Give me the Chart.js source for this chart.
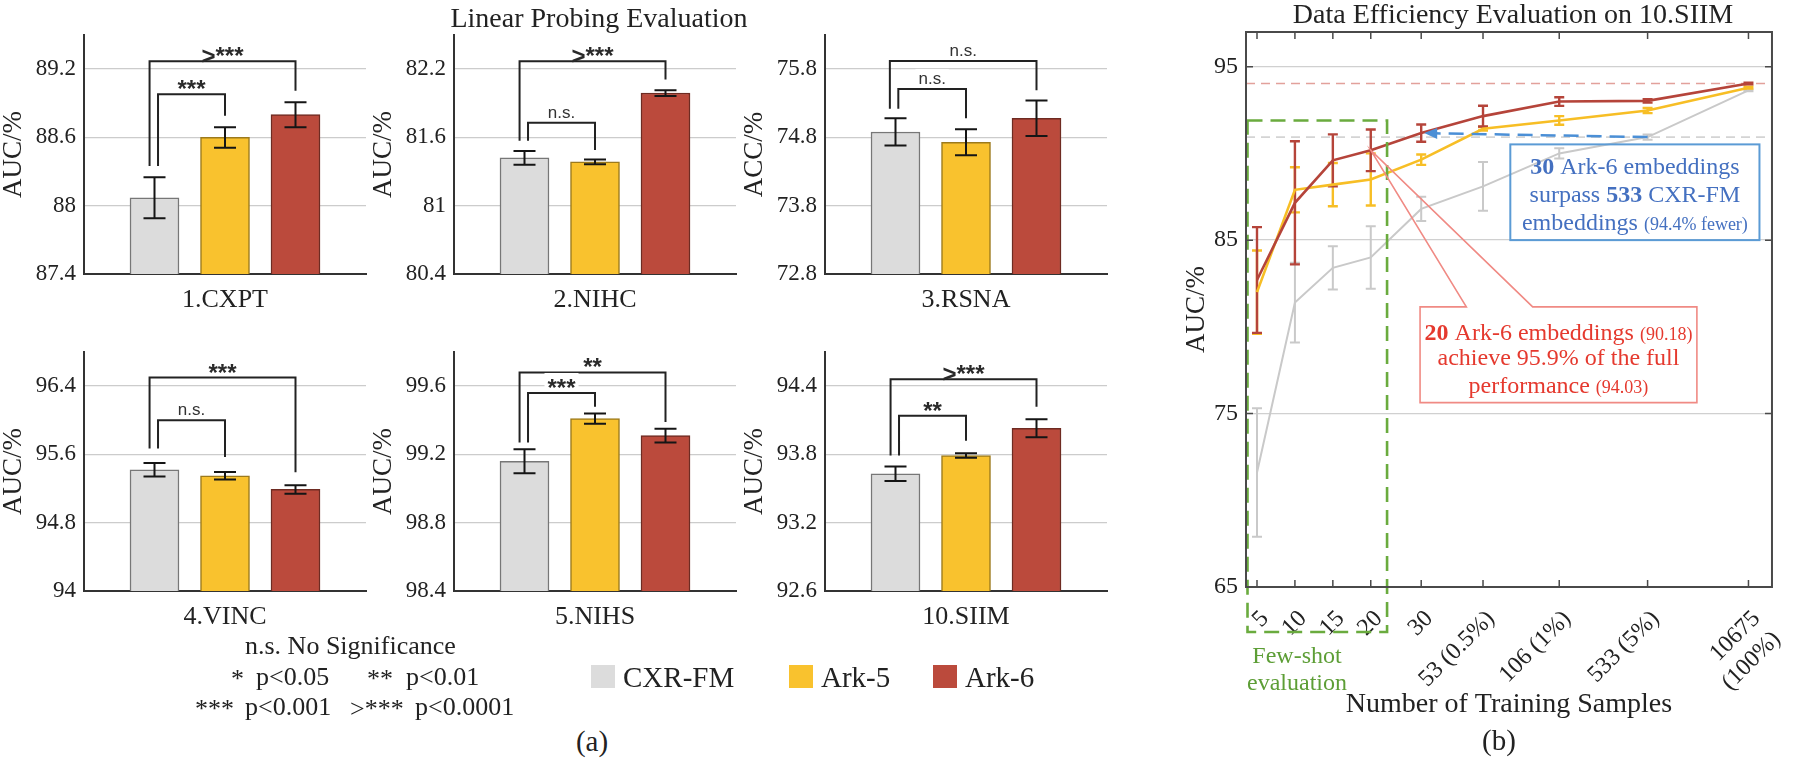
<!DOCTYPE html>
<html lang="en">
<head>
  <meta charset="UTF-8">
  <title>Linear Probing and Data Efficiency Evaluation</title>
  <script src="https://cdn.jsdelivr.net/npm/chart.js"></script>
  <style>
    body {
      margin: 0;
      width: 1800px;
      height: 759px;
      position: relative;
      overflow: hidden;
      background: #fff;
      font-family: "Liberation Serif", "Times New Roman", Times, serif;
      color: #222;
    }
    canvas { position: absolute; }
    .txt { position: absolute; white-space: nowrap; line-height: 1; transform: translate(-50%, -50%); }
    .txt.left { transform: translate(0, -50%); }
    .swatch { position: absolute; width: 24px; height: 23px; }
  </style>
</head>
<body>
  <script>
    // ---- data: linear probing (panel a) ----
    const models = ['CXR-FM', 'Ark-5', 'Ark-6'];

    const cxptAuc = [88.07, 88.60, 88.80];
    const cxptErr = [0.18, 0.09, 0.11];
    const cxptTicks = [87.4, 88, 88.6, 89.2];
    const cxptTickLabels = ['87.4', '88', '88.6', '89.2'];

    const nihcAuc = [81.42, 81.385, 81.99];
    const nihcErr = [0.06, 0.02, 0.025];
    const nihcTicks = [80.4, 81, 81.6, 82.2];
    const nihcTickLabels = ['80.4', '81', '81.6', '82.2'];

    const rsnaAcc = [74.88, 74.73, 75.08];
    const rsnaErr = [0.20, 0.19, 0.26];
    const rsnaTicks = [72.8, 73.8, 74.8, 75.8];
    const rsnaTickLabels = ['72.8', '73.8', '74.8', '75.8'];

    const vincAuc = [95.42, 95.35, 95.19];
    const vincErr = [0.08, 0.045, 0.05];
    const vincTicks = [94, 94.8, 95.6, 96.4];
    const vincTickLabels = ['94', '94.8', '95.6', '96.4'];

    const nihsAuc = [99.16, 99.41, 99.31];
    const nihsErr = [0.07, 0.03, 0.04];
    const nihsTicks = [98.4, 98.8, 99.2, 99.6];
    const nihsTickLabels = ['98.4', '98.8', '99.2', '99.6'];

    const siimAuc = [93.63, 93.79, 94.03];
    const siimErr = [0.063, 0.02, 0.08];
    const siimTicks = [92.6, 93.2, 93.8, 94.4];
    const siimTickLabels = ['92.6', '93.2', '93.8', '94.4'];

    // significance brackets: [left leg x, right leg x, bar y, left leg end, right leg end, label]
    const cxptSig = [[0.93, 3.0, 89.27, 88.35, 89.01, '>***'], [1.05, 2.0, 88.98, 88.35, 88.79, '***']];
    const nihcSig = [[0.93, 3.0, 82.27, 81.57, 82.11, '>***'], [1.05, 2.0, 81.73, 81.57, 81.49, 'n.s.']];
    const rsnaSig = [[0.92, 3.0, 75.92, 75.22, 75.49, 'n.s.'], [1.04, 2.0, 75.51, 75.22, 75.08, 'n.s.']];
    const vincSig = [[0.93, 3.0, 96.50, 95.67, 95.39, '***'], [1.05, 2.0, 96.00, 95.67, 95.57, 'n.s.']];
    const nihsSig = [[0.93, 3.0, 99.68, 99.27, 99.39, '**'], [1.05, 2.0, 99.56, 99.27, 99.48, '***']];
    const siimSig = [[0.93, 3.0, 94.46, 93.79, 94.22, '>***'], [1.05, 2.0, 94.14, 93.79, 93.92, '**']];

    // ---- data: data efficiency on 10.SIIM (panel b) ----
    const sampleLabels = ['5', '10', '15', '20', '30', '53 (0.5%)', '106 (1%)', '533 (5%)', ['10675', '(100%)']];
    const sampleAxisPos = [1, 2, 3, 4, 5.33, 6.96, 8.97, 11.3, 13.96];
    const effCxrFm = [71.6, 81.4, 83.4, 84.0, 86.8, 88.1, 90.0, 90.94, 93.63];
    const effCxrFmErr = [3.7, 2.3, 1.25, 1.8, 0.7, 1.4, 0.3, 0.15, 0.05];
    const effArk5 = [82.0, 87.9, 88.2, 88.5, 89.64, 91.42, 91.9, 92.47, 93.79];
    const effArk5Err = [2.4, 1.3, 1.25, 1.5, 0.3, 0.1, 0.25, 0.15, 0.05];
    const effArk6 = [82.7, 87.15, 89.6, 90.18, 91.17, 92.15, 92.99, 93.03, 94.03];
    const effArk6Err = [3.05, 3.55, 1.5, 1.2, 0.5, 0.6, 0.25, 0.1, 0.05];
    const effTicks = [65, 75, 85, 95];

    const SERIF = '"Liberation Serif", "Times New Roman", Times, serif';
    const SANS = '"Liberation Sans", Arial, sans-serif';
    const fillColors = ['#dcdcdc', '#f9c22e', '#bb4a3c'];
    const edgeColors = ['#777777', '#9c7a1c', '#6e2b22'];
    const lineColors = ['#c9c9c9', '#f7be25', '#b5443a'];

    Chart.defaults.font.family = SERIF;
    Chart.defaults.color = '#222';

    const panels = [
      { name: '1.CXPT', yTitle: 'AUC/%', vals: cxptAuc, errs: cxptErr, ticks: cxptTicks, labels: cxptTickLabels, max: 89.5, sig: cxptSig },
      { name: '2.NIHC', yTitle: 'AUC/%', vals: nihcAuc, errs: nihcErr, ticks: nihcTicks, labels: nihcTickLabels, max: 82.5, sig: nihcSig },
      { name: '3.RSNA', yTitle: 'ACC/%', vals: rsnaAcc, errs: rsnaErr, ticks: rsnaTicks, labels: rsnaTickLabels, max: 76.3, sig: rsnaSig },
      { name: '4.VINC', yTitle: 'AUC/%', vals: vincAuc, errs: vincErr, ticks: vincTicks, labels: vincTickLabels, max: 96.8, sig: vincSig },
      { name: '5.NIHS', yTitle: 'AUC/%', vals: nihsAuc, errs: nihsErr, ticks: nihsTicks, labels: nihsTickLabels, max: 99.8, sig: nihsSig },
      { name: '10.SIIM', yTitle: 'AUC/%', vals: siimAuc, errs: siimErr, ticks: siimTicks, labels: siimTickLabels, max: 94.7, sig: siimSig },
    ];

    function addCanvas(left, top, w, h) {
      const cv = document.createElement('canvas');
      cv.width = w; cv.height = h;
      cv.style.left = left + 'px'; cv.style.top = top + 'px';
      document.body.appendChild(cv);
      return cv;
    }

    function addText(text, x, y, size, extra) {
      const d = document.createElement('div');
      d.className = 'txt' + (extra && extra.left ? ' left' : '');
      d.textContent = text;
      d.style.left = x + 'px'; d.style.top = y + 'px';
      d.style.fontSize = size + 'px';
      if (extra && extra.color) d.style.color = extra.color;
      document.body.appendChild(d);
    }

    // error bars + significance brackets on the bar panels
    const barExtras = {
      id: 'barExtras',
      afterDatasetsDraw(chart, args, opts) {
        const p = panels[opts.panel];
        const { ctx, scales: { x, y } } = chart;
        ctx.save();
        ctx.strokeStyle = '#151515';
        ctx.lineWidth = 2;
        p.vals.forEach((v, k) => {
          const px = x.getPixelForValue(k + 1);
          const t = y.getPixelForValue(v + p.errs[k]);
          const b = y.getPixelForValue(v - p.errs[k]);
          ctx.beginPath();
          ctx.moveTo(px, t); ctx.lineTo(px, b);
          ctx.moveTo(px - 11, t); ctx.lineTo(px + 11, t);
          ctx.moveTo(px - 11, b); ctx.lineTo(px + 11, b);
          ctx.stroke();
        });
        ctx.strokeStyle = '#222';
        p.sig.forEach(([xa, xb, yl, ya, yb, label]) => {
          const x1 = x.getPixelForValue(xa), x2 = x.getPixelForValue(xb);
          const ly = y.getPixelForValue(yl);
          ctx.beginPath();
          ctx.moveTo(x1, y.getPixelForValue(ya));
          ctx.lineTo(x1, ly); ctx.lineTo(x2, ly);
          ctx.lineTo(x2, y.getPixelForValue(yb));
          ctx.stroke();
          const ns = label === 'n.s.';
          ctx.font = ns ? '17px ' + SANS : 'bold 24px ' + SANS;
          const w = ctx.measureText(label).width;
          const cx = (x1 + x2) / 2;
          ctx.fillStyle = '#fff';
          ctx.fillRect(cx - w / 2 - 3, ly - 20, w + 6, 16);
          ctx.fillStyle = ns ? '#333' : '#2a2a2a';
          ctx.textAlign = 'center';
          ctx.textBaseline = 'alphabetic';
          ctx.fillText(label, cx, ns ? ly - 5 : ly + 3);
        });
        ctx.restore();
      }
    };

    const panelLefts = [0, 370, 741];
    const rowTops = [0, 317];

    panels.forEach((p, i) => {
      const cv = addCanvas(panelLefts[i % 3], rowTops[Math.floor(i / 3)], 372, 320);
      new Chart(cv, {
        type: 'bar',
        data: {
          datasets: [{
            data: p.vals.map((v, k) => ({ x: k + 1, y: v })),
            backgroundColor: fillColors,
            borderColor: edgeColors,
            borderWidth: 1.5,
            barThickness: 49,
          }]
        },
        options: {
          responsive: false,
          animation: false,
          layout: { padding: { top: 35, right: 6, left: 0, bottom: 0 } },
          plugins: { legend: { display: false }, tooltip: { enabled: false }, barExtras: { panel: i } },
          scales: {
            x: {
              type: 'linear', min: 0, max: 4, offset: false,
              grid: { display: false },
              border: { color: '#333', width: 2 },
              ticks: { display: false },
              title: { display: true, text: p.name, color: '#222', font: { size: 26, lineHeight: 1 }, padding: { top: 0, bottom: 7 } },
              afterFit: s => { s.height = 46; }
            },
            y: {
              min: p.ticks[0], max: p.max,
              afterBuildTicks: s => { s.ticks = p.ticks.map(v => ({ value: v })); },
              ticks: { callback: (v, idx) => p.labels[idx], font: { size: 23 }, color: '#222', padding: 8 },
              grid: { color: '#cccccc', lineWidth: 1.3, drawTicks: false },
              border: { color: '#333', width: 2 },
              title: { display: true, text: p.yTitle, color: '#222', font: { size: 27, lineHeight: 1 }, padding: 0 },
              afterFit: s => { s.width = 84; }
            }
          }
        },
        plugins: [barExtras]
      });
    });

    // ---- panel b ----
    function drawRuns(ctx, runs, cx, baseY) {
      let w = 0;
      runs.forEach(r => { ctx.font = r.font; w += ctx.measureText(r.t).width; });
      let xx = cx - w / 2;
      ctx.textAlign = 'left';
      ctx.textBaseline = 'alphabetic';
      runs.forEach(r => {
        ctx.font = r.font; ctx.fillStyle = r.color;
        ctx.fillText(r.t, xx, baseY);
        xx += ctx.measureText(r.t).width;
      });
    }

    const effSeries = [[effCxrFm, effCxrFmErr], [effArk5, effArk5Err], [effArk6, effArk6Err]];

    const effExtras = {
      id: 'effExtras',
      beforeDatasetsDraw(chart) {
        const { ctx, chartArea: a, scales: { x, y } } = chart;
        ctx.save();
        // reference lines: full Ark-6 performance and CXR-FM at 533 samples
        ctx.lineWidth = 1.6;
        ctx.setLineDash([9, 6]);
        [[effArk6[8], '#e2a19b'], [effCxrFm[7], '#d4d4d4']].forEach(([v, c]) => {
          const py = y.getPixelForValue(v);
          ctx.strokeStyle = c;
          ctx.beginPath(); ctx.moveTo(a.left, py); ctx.lineTo(a.right, py); ctx.stroke();
        });
        ctx.setLineDash([]);
        // error bars
        effSeries.forEach(([vals, errs], s) => {
          ctx.strokeStyle = lineColors[s];
          ctx.lineWidth = s === 0 ? 2 : 2.4;
          vals.forEach((v, k) => {
            const px = x.getPixelForValue(sampleAxisPos[k]);
            const t = y.getPixelForValue(v + errs[k]);
            const b = y.getPixelForValue(v - errs[k]);
            ctx.beginPath();
            ctx.moveTo(px, t); ctx.lineTo(px, b);
            ctx.moveTo(px - 5, t); ctx.lineTo(px + 5, t);
            ctx.moveTo(px - 5, b); ctx.lineTo(px + 5, b);
            ctx.stroke();
          });
        });
        ctx.restore();
      },
      afterDatasetsDraw(chart) {
        const { ctx, chartArea: a, scales: { x, y } } = chart;
        ctx.save();

        // few-shot box
        const gx2 = x.getPixelForValue(4.43);
        const gy1 = y.getPixelForValue(91.9);
        ctx.strokeStyle = '#6aab3e';
        ctx.lineWidth = 2.6;
        ctx.setLineDash([15, 8]);
        ctx.strokeRect(a.left + 1.5, gy1, gx2 - a.left - 1.5, a.bottom + 45 - gy1);

        // blue dashed arrow: 30 Ark-6 vs 533 CXR-FM
        const bx1 = x.getPixelForValue(sampleAxisPos[7]);
        const by1 = y.getPixelForValue(effCxrFm[7]);
        const bx2 = x.getPixelForValue(sampleAxisPos[4]) + 3;
        const by2 = y.getPixelForValue(effArk6[4]);
        ctx.strokeStyle = '#4b8fd6';
        ctx.lineWidth = 2.5;
        ctx.setLineDash([15, 8]);
        ctx.beginPath(); ctx.moveTo(bx1, by1); ctx.lineTo(bx2 + 10, by2 + (by1 - by2) * 10 / (bx1 - bx2)); ctx.stroke();
        ctx.setLineDash([]);
        ctx.fillStyle = '#4b8fd6';
        ctx.beginPath(); ctx.moveTo(bx2, by2); ctx.lineTo(bx2 + 13, by2 - 5); ctx.lineTo(bx2 + 13, by2 + 6); ctx.closePath(); ctx.fill();

        // red callout box
        const rl = x.getPixelForValue(5.30), rr = x.getPixelForValue(12.6);
        const rt = y.getPixelForValue(81.15), rb = y.getPixelForValue(75.63);
        const n1 = x.getPixelForValue(6.52), n2 = x.getPixelForValue(8.27);
        const ax = x.getPixelForValue(sampleAxisPos[3]), ay = y.getPixelForValue(effArk6[3]);
        ctx.strokeStyle = '#f08a84';
        ctx.lineWidth = 1.6;
        ctx.beginPath();
        ctx.moveTo(n1, rt); ctx.lineTo(ax, ay); ctx.lineTo(n2, rt);
        ctx.lineTo(rr, rt); ctx.lineTo(rr, rb); ctx.lineTo(rl, rb); ctx.lineTo(rl, rt); ctx.closePath();
        ctx.stroke();
        const red = '#e5392e';
        const cxr = (rl + rr) / 2;
        const share = (effArk6[3] / effArk6[8] * 100).toFixed(1);
        drawRuns(ctx, [{ t: '20', font: 'bold 24px ' + SERIF, color: red }, { t: ' Ark-6 embeddings ', font: '24px ' + SERIF, color: red }, { t: '(' + effArk6[3].toFixed(2) + ')', font: '18px ' + SERIF, color: red }], cxr, rt + 33);
        drawRuns(ctx, [{ t: 'achieve ' + share + '% of the full', font: '24px ' + SERIF, color: red }], cxr, rt + 58);
        drawRuns(ctx, [{ t: 'performance ', font: '24px ' + SERIF, color: red }, { t: '(' + effArk6[8].toFixed(2) + ')', font: '18px ' + SERIF, color: red }], cxr, rt + 86);

        // blue text box
        const ql = x.getPixelForValue(7.68), qr = x.getPixelForValue(14.25);
        const qt = y.getPixelForValue(90.52), qb = y.getPixelForValue(85);
        ctx.strokeStyle = '#5b9bd5';
        ctx.lineWidth = 2;
        ctx.strokeRect(ql, qt, qr - ql, qb - qt);
        const blue = '#4470c0';
        const cxb = (ql + qr) / 2;
        const fewer = ((1 - 30 / 533) * 100).toFixed(1);
        drawRuns(ctx, [{ t: '30', font: 'bold 24px ' + SERIF, color: blue }, { t: ' Ark-6 embeddings', font: '24px ' + SERIF, color: blue }], cxb, qt + 30);
        drawRuns(ctx, [{ t: 'surpass ', font: '24px ' + SERIF, color: blue }, { t: '533', font: 'bold 24px ' + SERIF, color: blue }, { t: ' CXR-FM', font: '24px ' + SERIF, color: blue }], cxb, qt + 58);
        drawRuns(ctx, [{ t: 'embeddings ', font: '24px ' + SERIF, color: blue }, { t: '(' + fewer + '% fewer)', font: '18px ' + SERIF, color: blue }], cxb, qt + 86);

        // frame with inward ticks
        ctx.strokeStyle = '#4a4a4a';
        ctx.lineWidth = 2;
        ctx.strokeRect(a.left, a.top, a.right - a.left, a.bottom - a.top);
        ctx.lineWidth = 1.5;
        ctx.beginPath();
        sampleAxisPos.forEach(v => {
          const px = x.getPixelForValue(v);
          ctx.moveTo(px, a.top); ctx.lineTo(px, a.top + 7);
          ctx.moveTo(px, a.bottom); ctx.lineTo(px, a.bottom - 7);
        });
        effTicks.forEach(v => {
          const py = y.getPixelForValue(v);
          ctx.moveTo(a.left, py); ctx.lineTo(a.left + 7, py);
          ctx.moveTo(a.right, py); ctx.lineTo(a.right - 7, py);
        });
        ctx.stroke();

        // few-shot label
        ctx.fillStyle = '#5d9e36';
        ctx.font = '24px ' + SERIF;
        ctx.textAlign = 'center';
        ctx.textBaseline = 'middle';
        ctx.fillText('Few-shot', a.left + 51, a.bottom + 70);
        ctx.fillText('evaluation', a.left + 51, a.bottom + 97);
        ctx.restore();
      }
    };

    const effCanvas = addCanvas(1110, 0, 690, 759);
    new Chart(effCanvas, {
      type: 'line',
      data: {
        datasets: [
          { label: models[2], data: effArk6.map((v, k) => ({ x: sampleAxisPos[k], y: v })), borderColor: lineColors[2], borderWidth: 2.6 },
          { label: models[1], data: effArk5.map((v, k) => ({ x: sampleAxisPos[k], y: v })), borderColor: lineColors[1], borderWidth: 2.6 },
          { label: models[0], data: effCxrFm.map((v, k) => ({ x: sampleAxisPos[k], y: v })), borderColor: lineColors[0], borderWidth: 2 },
        ]
      },
      options: {
        responsive: false,
        animation: false,
        elements: { point: { radius: 0 }, line: { tension: 0 } },
        layout: { padding: { top: 32, right: 18, left: 0, bottom: 0 } },
        plugins: { legend: { display: false }, tooltip: { enabled: false } },
        scales: {
          x: {
            type: 'linear', min: 0.71, max: 14.58,
            afterBuildTicks: s => { s.ticks = sampleAxisPos.map(v => ({ value: v })); },
            ticks: { autoSkip: false, minRotation: 45, maxRotation: 45, callback: (v, idx) => sampleLabels[idx], font: { size: 24 }, color: '#222', padding: 10, labelOffset: 8 },
            grid: { display: false },
            border: { display: false },
            title: { display: true, text: 'Number of Training Samples', color: '#222', font: { size: 28, lineHeight: 1 }, padding: { top: 0, bottom: 40 } },
            afterFit: s => { s.height = 172; }
          },
          y: {
            min: 65, max: 97,
            afterBuildTicks: s => { s.ticks = effTicks.map(v => ({ value: v })); },
            ticks: { font: { size: 24 }, color: '#222', padding: 8 },
            grid: { color: '#d0d0d0', lineWidth: 1.3, drawTicks: false },
            border: { display: false },
            title: { display: true, text: 'AUC/%', color: '#222', font: { size: 27, lineHeight: 1 }, padding: { top: 73 } },
            afterFit: s => { s.width = 136; }
          }
        }
      },
      plugins: [effExtras]
    });

    // ---- titles, legends and captions ----
    addText('Linear Probing Evaluation', 599, 18, 28);
    addText('Data Efficiency Evaluation on 10.SIIM', 1513, 14, 28);

    addText('n.s. No Significance', 245, 646, 26, { left: true });
    addText('*', 231, 679, 26, { left: true });
    addText('p<0.05', 256, 677, 26, { left: true });
    addText('**', 367, 679, 26, { left: true });
    addText('p<0.01', 406, 677, 26, { left: true });
    addText('***', 195, 709, 26, { left: true });
    addText('p<0.001', 245, 707, 26, { left: true });
    addText('>***', 350, 709, 26, { left: true });
    addText('p<0.0001', 415, 707, 26, { left: true });

    const swatchLefts = [591, 789, 933];
    models.forEach((m, k) => {
      const sw = document.createElement('div');
      sw.className = 'swatch';
      sw.style.left = swatchLefts[k] + 'px';
      sw.style.top = '665px';
      sw.style.background = fillColors[k];
      document.body.appendChild(sw);
      addText(m, swatchLefts[k] + 32, 677, 29, { left: true });
    });

    addText('(a)', 592, 741, 29);
    addText('(b)', 1499, 740, 29);
  </script>
</body>
</html>
